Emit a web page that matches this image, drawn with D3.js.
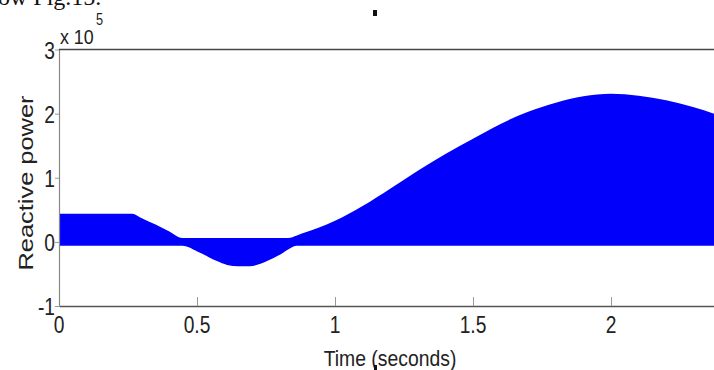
<!DOCTYPE html>
<html>
<head>
<meta charset="utf-8">
<script src="https://cdn.jsdelivr.net/npm/d3@7"></script>
<style>
  html, body { margin: 0; padding: 0; background: #fff; overflow: hidden; }
  svg { display: block; }
</style>
</head>
<body>
<svg id="chart" width="714" height="370"></svg>
<script>
// ---- data (values in units of 1e5) ----
const time  = [0, 0.1, 0.2, 0.265, 0.3, 0.35, 0.4, 0.446, 0.511, 0.572, 0.609, 0.65, 0.692, 0.754, 0.812, 0.83, 0.862, 0.88, 0.94, 1.0, 1.1, 1.2, 1.3, 1.4, 1.5, 1.6, 1.7, 1.8, 1.9, 2.0, 2.1, 2.2, 2.3, 2.4, 2.5];
const upper = [0.44, 0.44, 0.44, 0.44, 0.37, 0.27, 0.16, 0.06, 0.06, 0.06, 0.06, 0.06, 0.06, 0.06, 0.06, 0.06, 0.10, 0.13, 0.22, 0.33, 0.56, 0.83, 1.11, 1.37, 1.61, 1.84, 2.03, 2.17, 2.27, 2.31, 2.28, 2.21, 2.10, 1.96, 1.80];
const lower = [-0.06, -0.06, -0.06, -0.06, -0.06, -0.06, -0.06, -0.06, -0.17, -0.30, -0.36, -0.38, -0.38, -0.30, -0.17, -0.12, -0.06, -0.06, -0.06, -0.06, -0.06, -0.06, -0.06, -0.06, -0.06, -0.06, -0.06, -0.06, -0.06, -0.06, -0.06, -0.06, -0.06, -0.06, -0.06];
const xTicks = [0, 0.5, 1, 1.5, 2];
const xTickLabels = ["0", "0.5", "1", "1.5", "2"];
const yTicks = [-1, 0, 1, 2, 3];
const yTickLabels = ["-1", "0", "1", "2", "3"];
const xLabel = "Time (seconds)";
const yLabel = "Reactive power";

const svg = d3.select("#chart");
const pLeft = 59, pTop = 49.5, pBottom = 306, pRight = 749;

const x = d3.scaleLinear().domain([0, 2.5]).range([pLeft, pRight]);
const y = d3.scaleLinear().domain([-1, 3]).range([pBottom, pTop]);

// clip
svg.append("clipPath").attr("id", "plotclip")
  .append("rect").attr("x", pLeft).attr("y", pTop).attr("width", pRight - pLeft).attr("height", pBottom - pTop);

// filled oscillation envelope
const pts = time.map((t, i) => ({t, lo: lower[i], hi: upper[i]}));
svg.append("path")
  .datum(pts)
  .attr("clip-path", "url(#plotclip)")
  .attr("fill", "#0000fb")
  .attr("d", d3.area().x(d => x(d.t)).y0(d => y(d.lo)).y1(d => y(d.hi)).curve(d3.curveMonotoneX));

// axes
const xAxis = d3.axisBottom(x).tickValues(xTicks).tickFormat((d, i) => xTickLabels[i]).tickSize(-9).tickSizeOuter(0);
const gx = svg.append("g").attr("transform", `translate(0,${pBottom})`).call(xAxis);
gx.select(".domain").attr("stroke", "#555").attr("stroke-width", 1.5);
gx.selectAll(".tick line").attr("stroke", "#999").attr("stroke-width", 1);
gx.selectAll(".tick text").remove();

const yAxis = d3.axisLeft(y).tickValues(yTicks).tickSize(4).tickSizeOuter(0);
const gy = svg.append("g").attr("transform", `translate(${pLeft},0)`).call(yAxis);
gy.select(".domain").attr("stroke", "#888").attr("stroke-width", 1.2);
gy.selectAll(".tick line").attr("stroke", "#999");
gy.selectAll(".tick text").remove();

// top frame line
svg.append("line").attr("x1", pLeft).attr("x2", 714).attr("y1", pTop).attr("y2", pTop)
  .attr("stroke", "#444").attr("stroke-width", 1.5);

const font = "'Liberation Sans', Arial, sans-serif";
function label(txt, tx, ty, size, anchor, sx, rot) {
  svg.append("text")
    .attr("transform", `translate(${tx},${ty}) rotate(${rot || 0}) scale(${sx},1)`)
    .attr("font-family", font).attr("font-size", size).attr("fill", "#222")
    .attr("text-anchor", anchor).text(txt);
}

// x tick labels
xTicks.forEach((v, i) => label(xTickLabels[i], x(v), 333, 24, "middle", 0.8));
// y tick labels
yTicks.forEach((v, i) => label(yTickLabels[i], 55, y(v) + 9, 24, "end", 0.8));
// exponent
label("x 10", 60, 44, 21, "start", 0.85);
label("5", 96, 25, 16, "start", 0.8);
// axis titles
label(xLabel, 390, 366, 22, "middle", 0.88);
svg.append("text")
  .attr("transform", `translate(33,183) rotate(-90)`)
  .attr("font-family", font).attr("font-size", 20).attr("fill", "#222")
  .attr("text-anchor", "middle")
  .attr("textLength", 175).attr("lengthAdjust", "spacingAndGlyphs")
  .text(yLabel);

// cropped text from the page above
svg.append("text").attr("x", -2).attr("y", 5)
  .attr("font-family", "'Liberation Serif', 'Times New Roman', serif").attr("font-size", 24).attr("fill", "#111")
  .text("ow Fig.15.");

// stray marks
svg.append("rect").attr("x", 373).attr("y", 10).attr("width", 4).attr("height", 6).attr("fill", "#111");
svg.append("rect").attr("x", 374).attr("y", 365).attr("width", 3).attr("height", 5).attr("fill", "#111");
</script>
</body>
</html>
